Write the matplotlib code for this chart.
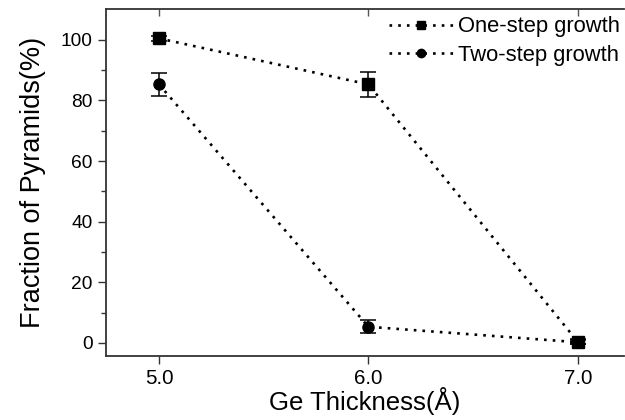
import matplotlib
matplotlib.use("Agg")
import matplotlib.pyplot as plt
from matplotlib.lines import Line2D

plt.rcParams['font.family'] = ['Liberation Sans', 'DejaVu Sans']

thickness = [5.0, 6.0, 7.0]
one_step = [100.5, 85.3, 0.3]
one_step_err = [0.8, 4.2, 0.8]
two_step = [85.3, 5.3, 0.2]
two_step_err = [3.9, 2.1, 0.6]
labels = ['One-step growth', 'Two-step growth']

fig = plt.figure(figsize=(6.25, 4.2), dpi=100)
ax = fig.add_axes([0.1696, 0.152, 0.8288, 0.8266])

dots = (1, 2.3)
ax.errorbar(thickness, one_step, yerr=one_step_err, color='black', ls=':', lw=1.9,
            marker='s', ms=8, capsize=5.8, elinewidth=1.1, capthick=1.1,
            dashes=dots)
ax.errorbar(thickness, two_step, yerr=two_step_err, color='black', ls=':', lw=1.9,
            marker='o', ms=8, capsize=5.8, elinewidth=1.1, capthick=1.1,
            dashes=dots)

ax.set_xlim(4.747, 7.22)
ax.set_ylim(-4.4, 110.2)
ax.set_xticks([5.0, 6.0, 7.0])
ax.set_xticklabels(['5.0', '6.0', '7.0'])
ax.set_yticks([0, 20, 40, 60, 80, 100])
ax.set_yticks([10, 30, 50, 70, 90], minor=True)
ax.tick_params(axis='both', which='major', direction='out', length=5.5, width=1,
               color='#333333', top=False, right=False)
ax.tick_params(axis='x', labelsize=14.8, pad=4)
ax.tick_params(axis='y', labelsize=13.8, pad=4)
ax.tick_params(axis='y', which='minor', direction='out', length=3.5, width=1,
               color='#333333')

# top ticks point down into the plot
sec = ax.secondary_xaxis('top')
sec.set_xticks([5.0, 6.0, 7.0])
sec.tick_params(direction='in', length=5, width=1, labeltop=False, color='#555555')
sec.spines['top'].set_visible(False)

for s in ['left', 'bottom', 'top']:
    ax.spines[s].set_color('#333333')
    ax.spines[s].set_linewidth(1.3)
ax.spines['right'].set_visible(False)

ax.set_xlabel('Ge Thickness(\u00c5)', fontsize=18.5, labelpad=-1)
ax.set_ylabel('Fraction of Pyramids(%)', fontsize=19.5, labelpad=11)

handles = [Line2D([], [], color='black', lw=1.9, ls=':', dashes=dots, marker='s', ms=6),
           Line2D([], [], color='black', lw=1.9, ls=':', dashes=dots, marker='o', ms=6)]
ax.legend(handles, labels, loc='upper right', bbox_to_anchor=(1.014, 1.01),
          frameon=False, fontsize=15.8, handlelength=2.9, handletextpad=0.25,
          borderaxespad=0.1, labelspacing=0.33)

fig.savefig('out.png', dpi=100)
